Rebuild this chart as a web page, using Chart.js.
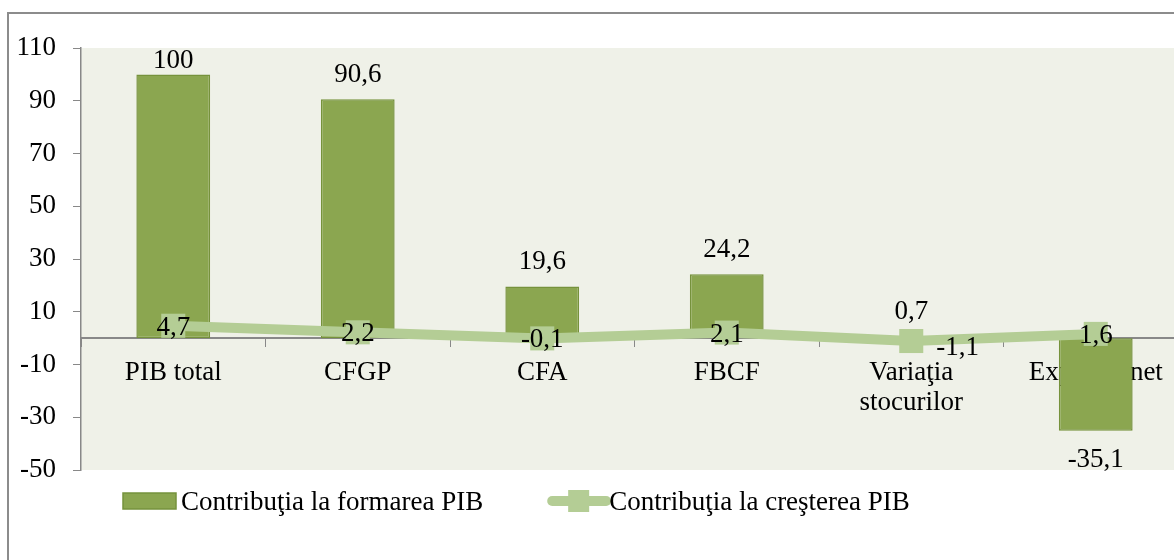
<!DOCTYPE html>
<html>
<head>
<meta charset="utf-8">
<script src="https://cdn.jsdelivr.net/npm/chart.js@4"></script>
<style>
  html, body { margin: 0; padding: 0; background: #fff; overflow: hidden; }
  #wrap { position: relative; width: 1174px; height: 560px; overflow: hidden; }
  #frame { position: absolute; left: 7px; top: 12px; width: 1200px; height: 600px; border: 2px solid #8c8c8c; }
  canvas { position: absolute; left: 0; top: 0; }
</style>
</head>
<body>
<div id="wrap">
  <div id="frame"></div>
  <canvas id="chart" width="1190" height="560"></canvas>
</div>
<script>
// data
const categories = ['PIB total', 'CFGP', 'CFA', 'FBCF', ['Variaţia', 'stocurilor'], 'Exportul net'];
const formareValues = [100, 90.6, 19.6, 24.2, 0.7, -35.1];
const crestereValues = [4.7, 2.2, -0.1, 2.1, -1.1, 1.6];
const yTicks = [110, 90, 70, 50, 30, 10, -10, -30, -50];
const seriesNames = ['Contribuţia la formarea PIB', 'Contribuţia la creşterea PIB'];

const barColor = '#8ba650';
const barBorder = '#76923c';
const lineColor = '#b4cd95';
const FONT = '"Liberation Serif", "Times New Roman", serif';

Chart.defaults.font.family = FONT;
Chart.defaults.color = '#000';

function fmt(v) {
   return String(v).replace('.', ',');
}

const decorPlugin = {
   id: 'decor',
   beforeDraw: function (chart) {
      const a = chart.chartArea;
      const ctx = chart.ctx;
      ctx.save();
      ctx.fillStyle = '#eff1e8';
      ctx.fillRect(a.left, a.top, a.right - a.left, a.bottom - a.top);
      ctx.restore();
   },
   afterDatasetsDraw: function (chart, args, opts) {
      const ctx = chart.ctx;
      const a = chart.chartArea;
      ctx.save();
      ctx.font = '27px ' + FONT;
      ctx.fillStyle = '#000';
      ctx.textBaseline = 'alphabetic';

      // bar labels
      const bars = chart.getDatasetMeta(0).data;
      bars.forEach(function (bar, i) {
         const v = formareValues[i];
         ctx.textAlign = 'center';
         if (v >= 0) {
            const y = Math.max(bar.y - 17, a.top + 20);
            ctx.fillText(fmt(v), bar.x, y);
         } else {
            ctx.fillText(fmt(v), bar.x, bar.y + 36);
         }
      });

      // line labels
      const pts = chart.getDatasetMeta(1).data;
      pts.forEach(function (p, i) {
         const align = opts.lineAlign[i];
         if (align === 'right') {
            ctx.textAlign = 'left';
            ctx.fillText(fmt(crestereValues[i]), p.x + 25, p.y + 14);
         } else {
            ctx.textAlign = 'center';
            ctx.fillText(fmt(crestereValues[i]), p.x, p.y + 9);
         }
      });
      ctx.restore();
   },
   afterDraw: function (chart) {
      const ctx = chart.ctx;
      ctx.save();
      ctx.font = '27px ' + FONT;
      ctx.textBaseline = 'alphabetic';
      ctx.textAlign = 'left';
      const cy = 501;
      let x = 123;
      ctx.fillStyle = barColor;
      ctx.fillRect(x, cy - 8, 53, 16);
      ctx.strokeStyle = barBorder;
      ctx.lineWidth = 1.5;
      ctx.strokeRect(x, cy - 8, 53, 16);
      ctx.fillStyle = '#000';
      ctx.fillText(seriesNames[0], x + 58, cy + 9);
      x = x + 58 + ctx.measureText(seriesNames[0]).width + 65;

      ctx.strokeStyle = lineColor;
      ctx.lineWidth = 10;
      ctx.lineCap = 'round';
      ctx.beginPath();
      ctx.moveTo(x + 4, cy);
      ctx.lineTo(x + 58, cy);
      ctx.stroke();
      ctx.fillStyle = lineColor;
      ctx.fillRect(x + 20, cy - 11, 21, 22);
      ctx.fillStyle = '#000';
      ctx.fillText(seriesNames[1], x + 61, cy + 9);
      ctx.restore();
   }
};

const config = {
   type: 'bar',
   data: {
      labels: categories,
      datasets: [{
         type: 'bar',
         label: seriesNames[0],
         data: formareValues,
         backgroundColor: barColor,
         borderColor: barBorder,
         borderWidth: 1.5,
         borderSkipped: false,
         barPercentage: 0.4,
         categoryPercentage: 1,
         order: 2
      }, {
         type: 'line',
         label: seriesNames[1],
         data: crestereValues,
         borderColor: lineColor,
         backgroundColor: lineColor,
         borderWidth: 10,
         tension: 0,
         pointStyle: 'rect',
         pointRadius: 17,
         pointHoverRadius: 17,
         pointBorderWidth: 0,
         order: 1
      }]
   },
   options: {
      responsive: false,
      animation: false,
      devicePixelRatio: 1,
      layout: { autoPadding: false, padding: { top: 48, bottom: 90, left: 0, right: 2 } },
      plugins: {
         legend: { display: false },
         tooltip: { enabled: false },
         decor: { lineAlign: ['center', 'center', 'center', 'center', 'right', 'center'] }
      },
      scales: {
         x: {
            position: { y: 0 },
            grid: { drawOnChartArea: false, drawTicks: true, tickLength: 8, color: '#888', offset: true },
            border: { color: '#888', width: 2 },
            ticks: { color: '#000', font: { size: 27, lineHeight: 1.1 }, padding: 12, maxRotation: 0, autoSkip: false },
            afterFit: function (s) {
               s.height = 0;
               s.paddingLeft = 0;
               s.paddingRight = 0;
            }
         },
         y: {
            min: -50,
            max: 110,
            afterBuildTicks: function (s) {
               s.ticks = yTicks.map(function (v) { return { value: v }; });
            },
            grid: { drawOnChartArea: false, tickLength: 8, color: '#888' },
            border: { color: '#888', width: 1.5 },
            ticks: { color: '#000', font: { size: 27 }, padding: 17 },
            afterFit: function (s) { s.width = 81; }
         }
      }
   },
   plugins: [decorPlugin]
};

const myChart = new Chart(document.getElementById('chart'), config);
</script>
</body>
</html>
